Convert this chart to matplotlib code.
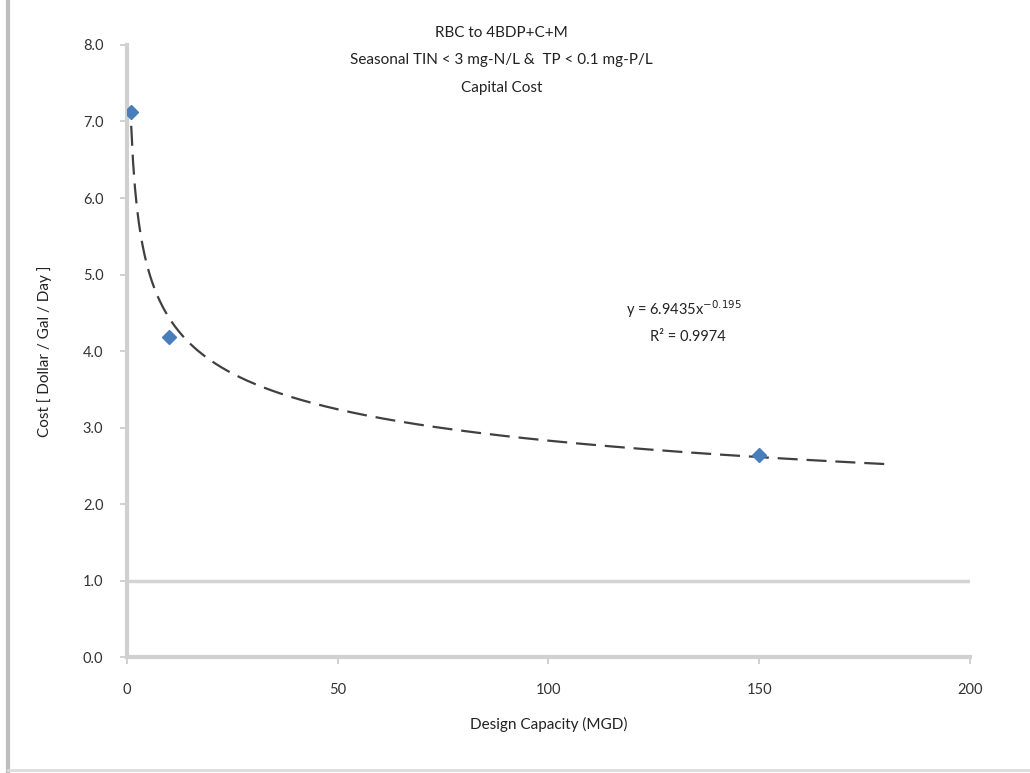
import numpy as np
import matplotlib
matplotlib.use("Agg")
import matplotlib.pyplot as plt
from matplotlib.lines import Line2D

plt.rcParams['font.family'] = ['Lato', 'DejaVu Sans']

# Data
capacity = [1, 10, 150]
cost = [7.12, 4.18, 2.64]
fit_a = 6.9435
fit_b = -0.195
fit_r2 = 0.9974
fit_xmax = 181
x_ticks = [0, 50, 100, 150, 200]
y_ticks = [0, 1, 2, 3, 4, 5, 6, 7, 8]
title_lines = ["RBC to 4BDP+C+M",
               "Seasonal TIN < 3 mg-N/L &  TP < 0.1 mg-P/L",
               "Capital Cost"]

fig = plt.figure(figsize=(10.30, 7.73), dpi=100)
ax = fig.add_axes([0.1233, 0.150, 0.8184, 0.7918])

# trendline
xf = np.linspace(capacity[0], fit_xmax, 400)
yf = fit_a * xf ** fit_b
ax.plot(xf, yf, color='#404040', lw=1.6, dashes=(9, 4), zorder=3)

# horizontal gridline at 1.0
ax.axhline(1.0, color='#d4d4d4', lw=2.5, zorder=1)

ax.plot(capacity, cost, linestyle='none', marker='D', markersize=7,
        color='#4a7ebb', zorder=4)

ax.set_xlim(0, 200)
ax.set_ylim(0, 8)
ax.set_xticks(x_ticks)
ax.set_xticklabels([str(v) for v in x_ticks])
ax.set_yticks(y_ticks)
ax.set_yticklabels([f"{v:.1f}" for v in y_ticks])

for s in ['top', 'right']:
    ax.spines[s].set_visible(False)
for s in ['left', 'bottom']:
    ax.spines[s].set_color('#d0d0d0')
    ax.spines[s].set_linewidth(3)
ax.tick_params(axis='both', colors='#c8c8c8', labelcolor='#333333',
               labelsize=10.5, length=5, width=1.2)
ax.tick_params(axis='x', pad=14)
ax.tick_params(axis='y', pad=12)

ax.set_xlabel("Design Capacity (MGD)", fontsize=11, color='#222222', labelpad=14)
ax.set_ylabel("Cost [ Dollar / Gal / Day ]", fontsize=11, color='#222222', labelpad=22)

fig.text(0.487, 0.957, title_lines[0], ha='center', va='center', fontsize=11, color='#222222')
fig.text(0.487, 0.922, title_lines[1], ha='center', va='center', fontsize=11, color='#222222')
fig.text(0.487, 0.886, title_lines[2], ha='center', va='center', fontsize=11, color='#222222')

ax.text(0.664, 0.600, f"y = {fit_a}x$^{{{fit_b}}}$", transform=fig.transFigure,
        ha='center', va='center', fontsize=10.5, color='#222222')
ax.text(0.668, 0.564, f"R² = {fit_r2}", transform=fig.transFigure,
        ha='center', va='center', fontsize=10.5, color='#222222')

# figure border (left & bottom)
fig.add_artist(Line2D([0.008, 0.008], [0.003, 1.0], transform=fig.transFigure,
                      color='#bdbdbd', lw=3))
fig.add_artist(Line2D([0.008, 1.0], [0.004, 0.004], transform=fig.transFigure,
                      color='#dcdcdc', lw=2))

fig.savefig("out.png", dpi=100)
